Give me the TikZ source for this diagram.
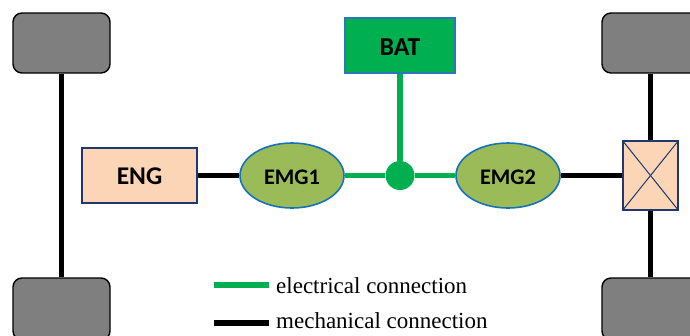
\documentclass[tikz,border=0pt]{standalone}
\usepackage{fontspec}
\setmainfont{Liberation Serif}
\newfontfamily\labelfont{Carlito}
\usetikzlibrary{shapes.geometric}
\definecolor{wheelgray}{RGB}{127,127,127}
\definecolor{peach}{RGB}{251,213,181}
\definecolor{navyedge}{RGB}{31,56,110}
\definecolor{elgreen}{RGB}{0,176,80}
\definecolor{motorgreen}{RGB}{155,187,89}
\definecolor{motoredge}{RGB}{23,115,185}
\definecolor{batedge}{RGB}{46,117,182}
\tikzset{
  wheelbox/.style={draw=black,line width=1.4pt,fill=wheelgray,rounded corners=9pt,minimum width=97pt,minimum height=60pt,inner sep=0pt},
  peachbox/.style={draw=navyedge,line width=1.4pt,fill=peach,inner sep=0pt},
  motor/.style={ellipse,draw=motoredge,line width=1.6pt,fill=motorgreen,minimum width=104pt,minimum height=65pt,inner sep=0pt,text height=17pt,text depth=0pt,font=\labelfont\bfseries\fontsize{22.3}{24}\selectfont},
  batbox/.style={draw=batedge,line width=1.4pt,fill=elgreen,minimum width=110pt,minimum height=55pt,inner sep=0pt,text height=19.4pt,text depth=0pt,font=\labelfont\bfseries\fontsize{25.8}{28}\selectfont},
  mech/.style={line width=5.6pt,black},
  elec/.style={line width=5.4pt,elgreen},
  legendtext/.style={font=\fontsize{23}{26}\selectfont,anchor=west,inner sep=0pt},
}
\begin{document}
\begin{tikzpicture}[x=1pt,y=-1pt]
\useasboundingbox (0,0) rectangle (690,335);
\clip (0,0) rectangle (690,335);
\node[wheelbox] (wheelTL) at (61.5,43) {};
\node[wheelbox,minimum height=62pt] (wheelBL) at (61.5,309) {};
\node[wheelbox] (wheelTR) at (650.5,43) {};
\node[wheelbox,minimum height=62pt] (wheelBR) at (650.5,309) {};
\node[peachbox,minimum width=115pt,minimum height=55pt,text height=18.2pt,text depth=0pt,font=\labelfont\bfseries\fontsize{25.5}{28}\selectfont] (eng) at (139.5,175.5) {ENG};
\node[motor] (emga) at (292,175.5) {EMG1};
\node[motor] (emgb) at (508,175.5) {EMG2};
\node[batbox] (bat) at (400,45.5) {BAT};
\node[peachbox,minimum width=55pt,minimum height=69pt] (gear) at (650.5,175.5) {};
\node[circle,fill=elgreen,minimum size=29pt,inner sep=0pt] (junction) at (400,175.5) {};
\draw[mech] (wheelTL) -- (wheelBL);
\draw[mech] (wheelTR) -- (gear);
\draw[mech] (gear) -- (wheelBR);
\draw[mech] (eng) -- (emga);
\draw[mech] (emgb) -- (gear);
\draw[elec] (bat) -- (junction);
\draw[elec] (emga) -- (junction);
\draw[elec] (junction) -- (emgb);
\draw[navyedge,line width=1pt] (gear.north west) -- (gear.south east);
\draw[navyedge,line width=1pt] (gear.north east) -- (gear.south west);
\coordinate (lga) at (214,285); \coordinate (lgb) at (269,285);
\coordinate (lma) at (214,323); \coordinate (lmb) at (269,323);
\draw[line width=5.5pt,elgreen] (lga) -- (lgb);
\draw[line width=5.5pt,black] (lma) -- (lmb);
\node[legendtext] (lt1) at (276,286) {electrical connection};
\node[legendtext] (lt2) at (276,321) {mechanical connection};
\end{tikzpicture}
\end{document}
